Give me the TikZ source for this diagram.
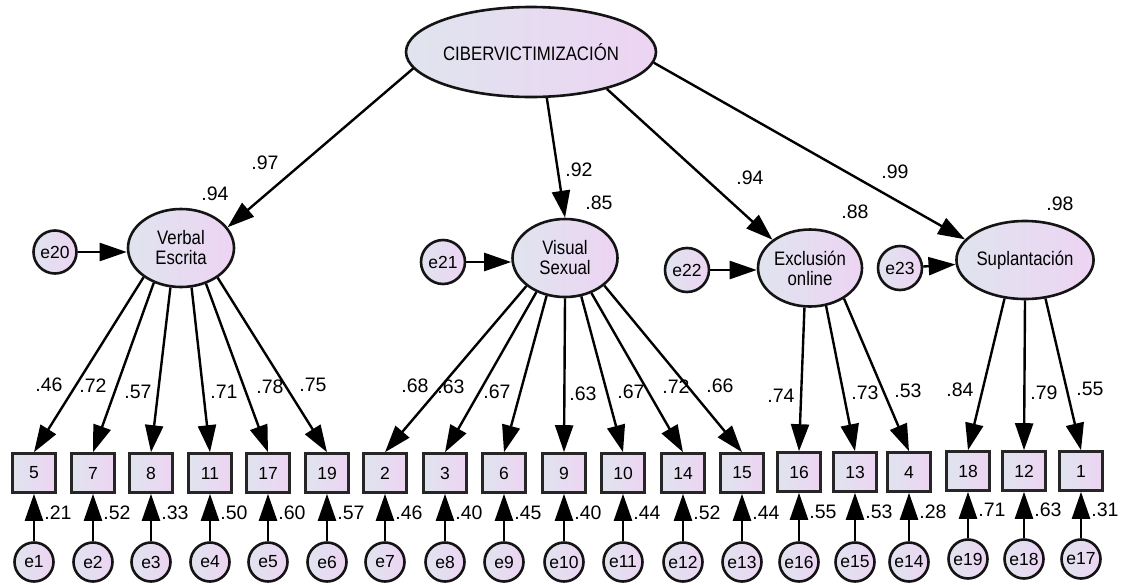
\documentclass[tikz,border=0pt]{standalone}
\usepackage{fontspec}
\setmainfont{Liberation Sans}
\newfontfamily\narrowfont[FakeStretch=0.86]{Liberation Sans}
\usetikzlibrary{arrows.meta,shapes.geometric}
\definecolor{amosA}{RGB}{224,228,238}
\definecolor{amosB}{RGB}{237,212,243}
\definecolor{amosLine}{RGB}{20,20,20}
\newcommand\coefFont{\fontsize{19.5}{19.5}\selectfont}
\tikzset{
  latent/.style={ellipse, draw=amosLine, line width=2.6pt, left color=amosA, right color=amosB,
    inner sep=0pt, align=center, font=\narrowfont\fontsize{19.5}{20}\selectfont},
  observed/.style={rectangle, draw=black!85, line width=2.6pt, left color=amosA, right color=amosB,
    minimum width=43pt, minimum height=39pt, inner sep=0pt, font=\fontsize{17.5}{17.5}\selectfont},
  errterm/.style={circle, draw=amosLine, line width=2.6pt, left color=amosA, right color=amosB,
    minimum size=39pt, inner sep=0pt, font=\fontsize{17.5}{17.5}\selectfont},
  regpath/.style={draw=black, line width=2.4pt, -{Triangle[length=27pt,width=18pt]}},
  coef/.style={font=\coefFont, inner sep=0pt},
}

\begin{document}
\begin{tikzpicture}[x=1pt,y=-1pt]
\useasboundingbox[fill=white] (0,0) rectangle (1126,584);
% Drawing latent variables
\node[latent, minimum width=250pt, minimum height=90pt, font=\narrowfont\fontsize{19.5}{20}\selectfont] (cib) at (531,52) {CIBERVICTIMIZACIÓN};
\node[latent, minimum width=106pt, minimum height=78pt] (ve) at (181,248) {Verbal\\Escrita};
\node[latent, minimum width=105pt, minimum height=78pt] (vs) at (565,258) {Visual\\Sexual};
\node[latent, minimum width=104pt, minimum height=77pt] (ex) at (810,268) {Exclusión\\online};
\node[latent, minimum width=104pt, minimum height=78pt] (sp) at (1025,260) {Suplantación};
% Disturbances of the factors
\node[errterm, minimum size=43pt] (e20) at (55,252) {e20};
\node[errterm, minimum size=44pt] (e21) at (443,262) {e21};
\node[errterm, minimum size=44pt] (e22) at (687,270) {e22};
\node[errterm, minimum size=44pt] (e23) at (900,268) {e23};
% Drawing observed items
\node[observed] (i5) at (34,473) {5};
\node[observed] (i7) at (93,473) {7};
\node[observed] (i8) at (151,473) {8};
\node[observed] (i11) at (210,473) {11};
\node[observed] (i17) at (268,473) {17};
\node[observed] (i19) at (327,473) {19};
\node[observed] (i2) at (385,473) {2};
\node[observed] (i3) at (445,473) {3};
\node[observed] (i6) at (504,473) {6};
\node[observed] (i9) at (564,473) {9};
\node[observed] (i10) at (623,473) {10};
\node[observed] (i14) at (683,473) {14};
\node[observed] (i15) at (742,473) {15};
\node[observed] (i16) at (799,472) {16};
\node[observed] (i13) at (855,472) {13};
\node[observed] (i4) at (909,472) {4};
\node[observed] (i18) at (968,471) {18};
\node[observed] (i12) at (1024,471) {12};
\node[observed] (i1) at (1081,471) {1};
% Drawing error terms
\node[errterm] (e1) at (34,562) {e1};
\node[errterm] (e2) at (93,562) {e2};
\node[errterm] (e3) at (151,562) {e3};
\node[errterm] (e4) at (210,562) {e4};
\node[errterm] (e5) at (268,562) {e5};
\node[errterm] (e6) at (327,562) {e6};
\node[errterm] (e7) at (385,562) {e7};
\node[errterm] (e8) at (445,562) {e8};
\node[errterm] (e9) at (504,562) {e9};
\node[errterm] (e10) at (564,562) {e10};
\node[errterm] (e11) at (623,562) {e11};
\node[errterm] (e12) at (683,562) {e12};
\node[errterm] (e13) at (742,562) {e13};
\node[errterm] (e16) at (799,562) {e16};
\node[errterm] (e15) at (855,562) {e15};
\node[errterm] (e14) at (909,562) {e14};
\node[errterm] (e19) at (968,559) {e19};
\node[errterm] (e18) at (1024,559) {e18};
\node[errterm] (e17) at (1081,559) {e17};
% Second order paths
\draw[regpath] (cib.188) -- (ve.24);
\draw[regpath] (cib.289) -- (vs.90);
\draw[regpath] (cib.334) -- (ex.143);
\draw[regpath] (cib.355) -- (sp.161);
\draw[regpath] (e20) -- (e20 -| ve.west);
\draw[regpath] (e21) -- (e21 -| vs.west);
\draw[regpath] (e22) -- (e22 -| ex.west);
\draw[regpath] (e23) -- (sp);
% First order paths
\draw[regpath] (ve.218) -- (i5.north);
\draw[regpath] (ve.232) -- (i7.north);
\draw[regpath] (ve.255) -- (i8.north);
\draw[regpath] (ve.285) -- (i11.north);
\draw[regpath] (ve.305) -- (i17.north);
\draw[regpath] (ve.321) -- (i19.north);
\draw[regpath] (vs.216) -- (i2.north);
\draw[regpath] (vs.230) -- (i3.north);
\draw[regpath] (vs.244) -- (i6.north);
\draw[regpath] (vs.270) -- (i9.north);
\draw[regpath] (vs.293) -- (i10.north);
\draw[regpath] (vs.307) -- (i14.north);
\draw[regpath] (vs.325) -- (i15.north);
\draw[regpath] (ex.262) -- (i16.north);
\draw[regpath] (ex.293) -- (i13.north);
\draw[regpath] (ex.318) -- (i4.north);
\draw[regpath] (sp.242) -- (i18.north);
\draw[regpath] (sp.270) -- (i12.north);
\draw[regpath] (sp.298) -- (i1.north);
% Error paths
\draw[regpath] (e1) -- (i5);
\draw[regpath] (e2) -- (i7);
\draw[regpath] (e3) -- (i8);
\draw[regpath] (e4) -- (i11);
\draw[regpath] (e5) -- (i17);
\draw[regpath] (e6) -- (i19);
\draw[regpath] (e7) -- (i2);
\draw[regpath] (e8) -- (i3);
\draw[regpath] (e9) -- (i6);
\draw[regpath] (e10) -- (i9);
\draw[regpath] (e11) -- (i10);
\draw[regpath] (e12) -- (i14);
\draw[regpath] (e13) -- (i15);
\draw[regpath] (e16) -- (i16);
\draw[regpath] (e15) -- (i13);
\draw[regpath] (e14) -- (i4);
\draw[regpath] (e19) -- (i18);
\draw[regpath] (e18) -- (i12);
\draw[regpath] (e17) -- (i1);
% Estimates: second order
\node[coef] (w1) at (265,163) {.97};
\node[coef] (w2) at (579,170) {.92};
\node[coef] (w3) at (750,178) {.94};
\node[coef] (w4) at (895,172) {.99};
\node[coef] (r1) at (215,194) {.94};
\node[coef] (r2) at (599,203) {.85};
\node[coef] (r3) at (855,212) {.88};
\node[coef] (r4) at (1060,204) {.98};
% Estimates: loadings
\node[coef] at (49,385) {.46};
\node[coef] at (93,386) {.72};
\node[coef] at (138,392) {.57};
\node[coef] at (224,392) {.71};
\node[coef] at (270,387) {.78};
\node[coef] at (313,385) {.75};
\node[coef] at (415,386) {.68};
\node[coef] at (451,387) {.63};
\node[coef] at (497,392) {.67};
\node[coef] at (583,394) {.63};
\node[coef] at (631,392) {.67};
\node[coef] at (676,387) {.72};
\node[coef] at (720,386) {.66};
\node[coef] at (781,396) {.74};
\node[coef] at (865,393) {.73};
\node[coef] at (908,391) {.53};
\node[coef] at (960,390) {.84};
\node[coef] at (1044,393) {.79};
\node[coef] at (1090,389) {.55};
% Estimates: squared multiple correlations
\node[coef] at (58,513) {.21};
\node[coef] at (117,513) {.52};
\node[coef] at (175,513) {.33};
\node[coef] at (234,513) {.50};
\node[coef] at (292,513) {.60};
\node[coef] at (351,513) {.57};
\node[coef] at (409,513) {.46};
\node[coef] at (469,513) {.40};
\node[coef] at (528,513) {.45};
\node[coef] at (588,513) {.40};
\node[coef] at (647,513) {.44};
\node[coef] at (707,513) {.52};
\node[coef] at (766,513) {.44};
\node[coef] at (823,512) {.55};
\node[coef] at (879,512) {.53};
\node[coef] at (933,512) {.28};
\node[coef] at (992,510) {.71};
\node[coef] at (1048,510) {.63};
\node[coef] at (1105,510) {.31};
\end{tikzpicture}
\end{document}
